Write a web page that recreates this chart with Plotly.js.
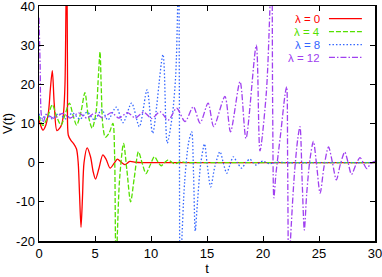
<!DOCTYPE html>
<html>
<head>
<meta charset="utf-8">
<script src="https://cdn.plot.ly/plotly-3.0.1.min.js"></script>
<style>html,body{margin:0;padding:0;background:#fff;}#chart{width:382px;height:277px;}</style>
</head>
<body>
<div id="chart"></div>
<script>
// ---- data ----
const seriesNames = ['λ = 0', 'λ = 4', 'λ = 8', 'λ = 12'];
const seriesColors = ['#ff0000', '#55e000', '#3366ff', '#a040f0'];

const tRed = [0, 0.15, 0.35, 0.6, 0.85, 1.02, 1.19, 1.36, 1.6, 1.85, 2.05, 2.2, 2.32, 2.41, 2.48, 2.55, 2.62, 2.85, 3.1, 3.35, 3.5, 3.62, 3.75, 3.88, 4.02, 4.3, 4.6, 4.85, 5.05, 5.35, 5.7, 6.0, 6.35, 6.7, 7.0, 7.35, 7.7, 8.1, 8.6, 9.2, 10, 12, 15, 20, 25, 30];
const vRed = [11, 9.5, 8.3, 9.5, 13, 19, 23.5, 15, 8.2, 8.8, 10, 13, 20, 40, 55, 20, 7, 5.7, 4.8, 3.5, 0, -8, -16.5, -9, 0, 3.8, 1.5, -2.5, -4.2, -1.5, 2, 0.8, -1.4, -0.2, 0.9, 0.1, -0.5, 0.3, 0.1, 0, 0, 0, 0, 0, 0, 0];

const tGreen = [0, 0.15, 0.35, 0.75, 1.19, 1.55, 1.96, 2.35, 2.71, 3.05, 3.36, 3.75, 4.1, 4.4, 4.75, 5.1, 5.3, 5.45, 5.55, 5.7, 5.92, 6.25, 6.6, 6.75, 6.83, 6.9, 7.0, 7.2, 7.55, 7.85, 8.18, 8.5, 8.88, 9.2, 9.55, 9.9, 10.3, 10.6, 10.9, 11.2, 11.55, 11.85, 12.15, 12.6, 13.2, 14, 15, 20, 25, 30];
const vGreen = [12, 10.5, 9.5, 11.5, 14.8, 12, 9.6, 12.5, 15.2, 12, 9.6, 13, 17.9, 12, 8.8, 13, 22, 28.3, 20, 9.5, 6.5, 7.5, 10, 2, -20, -28, -18, -4, 4.9, -2, -10, -4, 2.8, 0, -2.8, -0.8, 1.5, 0.3, -0.8, 0, 0.7, 0.1, -0.3, 0.2, 0, 0, 0, 0, 0, 0];

const tBlue = [0, 0.25, 0.6, 1.15, 1.75, 2.4, 3.0, 3.65, 4.3, 4.95, 5.6, 6.15, 6.9, 7.5, 8.27, 8.96, 9.65, 10.15, 11.07, 11.45, 11.9, 12.2, 12.38, 12.47, 12.53, 12.6, 12.72, 13.0, 13.35, 13.63, 13.8, 13.95, 14.15, 14.45, 14.78, 15.0, 15.33, 15.7, 16.16, 16.45, 16.76, 17.05, 17.35, 17.7, 18.1, 18.45, 18.84, 19.1, 19.4, 19.7, 20.0, 20.3, 20.6, 21.0, 21.4, 22, 26, 30];
const vBlue = [12.5, 10.8, 12.3, 11.2, 12.5, 11.2, 12.7, 11.1, 12.9, 10.9, 13.5, 10.9, 14.2, 10.2, 15.2, 9.2, 18.6, 7.5, 27.6, 5, 12, 22, 40, 60, 20, -30, -22, -5, 5, 7.9, -3, -17.5, -10, 0, 4.8, 0, -6.2, -1, 2.8, 0, -2.7, -0.5, 1.5, 0, -1.4, 0, 0.9, 0, -0.6, 0, 0.4, 0, -0.3, 0, 0.1, 0, 0, 0];

const tPurple = [0, 0.1, 0.22, 0.4, 0.65, 1.35, 2.1, 2.8, 3.55, 4.25, 5.0, 5.7, 6.45, 7.15, 7.9, 8.6, 9.35, 10.06, 10.8, 11.55, 12.29, 13.04, 13.78, 14.38, 15.1, 15.6, 16.6, 17.1, 17.95, 18.48, 19.4, 19.73, 20.3, 20.6, 20.78, 20.86, 20.97, 21.15, 21.6, 21.95, 22.11, 22.2, 22.3, 22.45, 22.8, 23.1, 23.3, 23.5, 23.69, 23.9, 24.2, 24.5, 24.8, 25.1, 25.45, 25.85, 26.2, 26.55, 26.9, 27.3, 27.6, 27.9, 28.3, 28.66, 28.95, 29.26, 29.6, 30];
const vPurple = [37, 25, 12, 10.5, 12.3, 11.3, 12.6, 11.4, 12.7, 11.4, 12.7, 11.4, 12.8, 11.4, 12.8, 11.4, 12.9, 11.3, 13.0, 10.9, 13.9, 10.5, 14.3, 10.1, 15.2, 9.2, 16.9, 7.9, 20.7, 6.2, 30, 3.0, 18, 38, 55, 15, -9, -3, 8, 17, 19.4, 0, -30, -20, -3, 6, 9.2, -5, -17.2, -8, 1, 5.4, -1, -7.8, -1, 4.0, 0, -4.4, -0.5, 2.7, 0, -3.0, -0.5, 1.3, 0, -1.5, -0.3, 0.4];

const xTickVals = [0, 5, 10, 15, 20, 25, 30];
const yTickVals = [-20, -10, 0, 10, 20, 30, 40];
const yTickText = ['-20', '-10', '0', '10', '20', '30', '40'];

// ---- styles ----
const dashes = ['solid', '5px,2px', '1.5px,2px', '6px,2px,1.5px,2px'];
const tData = [tRed, tGreen, tBlue, tPurple];
const vData = [vRed, vGreen, vBlue, vPurple];
const FONT = 'Liberation Sans, Arial, Helvetica, sans-serif';

const traces = seriesNames.map((name, i) => ({
  x: tData[i], y: vData[i], name: name, type: 'scatter', mode: 'lines',
  line: {color: seriesColors[i], width: 1.3, dash: dashes[i], shape: 'spline', smoothing: 0.8},
  showlegend: false, hoverinfo: 'skip'
}));

// legend drawn gnuplot-style: text on left, sample line on right
const legRows = [0.946, 0.891, 0.836, 0.781];
const annotations = seriesNames.map((name, i) => ({
  xref: 'paper', yref: 'paper', x: 0.84, y: legRows[i], xanchor: 'right', yanchor: 'middle',
  text: name, showarrow: false, borderpad: 0, height: 11, valign: 'middle',
  font: {family: FONT, size: 11.5, color: seriesColors[i]}
}));
const shapes = seriesNames.map((name, i) => ({
  type: 'line', xref: 'paper', yref: 'paper', x0: 0.863, x1: 0.961, y0: legRows[i], y1: legRows[i],
  line: {color: seriesColors[i], width: 1.3, dash: dashes[i]}
}));

const axisCommon = {
  showline: true, linecolor: '#000', linewidth: 1.5, mirror: 'ticks',
  ticks: 'inside', ticklen: 5, tickwidth: 1, tickcolor: '#000',
  showgrid: false, zeroline: false, ticklabeloverflow: 'allow',
  tickfont: {family: FONT, size: 13, color: '#000'}
};

const layout = {
  width: 382, height: 277,
  margin: {l: 39, r: 7, t: 6, b: 36},
  paper_bgcolor: '#fff', plot_bgcolor: '#fff',
  showlegend: false,
  xaxis: Object.assign({}, axisCommon, {
    range: [0, 30], tickmode: 'array', tickvals: xTickVals,
    title: {text: 't', font: {family: FONT, size: 13, color: '#000'}, standoff: 1}
  }),
  yaxis: Object.assign({}, axisCommon, {
    range: [-20, 40], tickmode: 'array', tickvals: yTickVals, ticktext: yTickText,
    title: {text: 'V(t)', font: {family: FONT, size: 13, color: '#000'}, standoff: 3}
  }),
  annotations: annotations,
  shapes: shapes
};

Plotly.newPlot('chart', traces, layout, {staticPlot: true, displayModeBar: false});
</script>
</body>
</html>
